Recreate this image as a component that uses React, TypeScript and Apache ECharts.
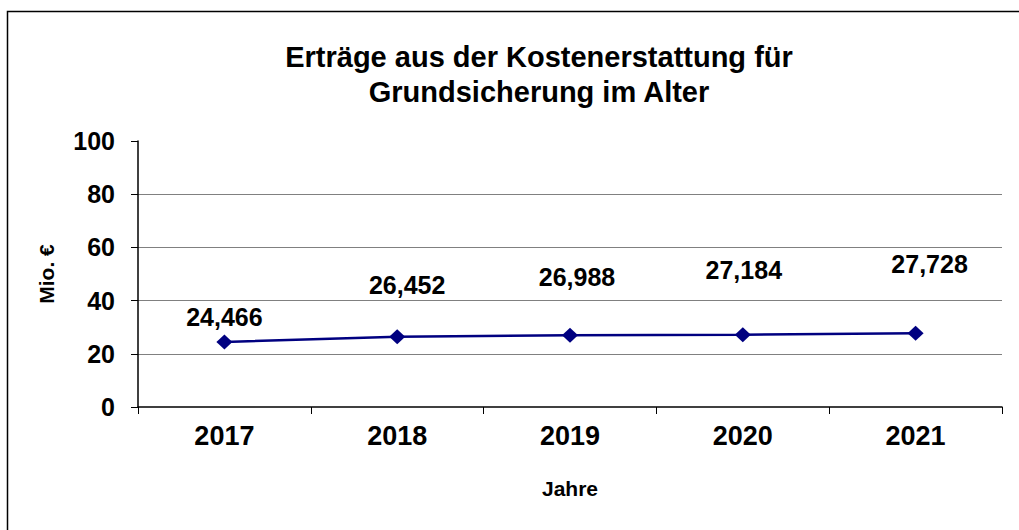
import React, { useEffect, useRef } from "react";
import * as echarts from "echarts";

const categories = ["2017", "2018", "2019", "2020", "2021"];
const values = [24.466, 26.452, 26.988, 27.184, 27.728];
const valueLabels = ["24,466", "26,452", "26,988", "27,184", "27,728"];
const yTicks = [0, 20, 40, 60, 80, 100];
const labelOffsets = [
  [0, -25],
  [10, -52],
  [7, -58],
  [1, -65],
  [14, -69],
];

const FONT = "Arial, 'Liberation Sans', sans-serif";

export default function App() {
  const ref = useRef<HTMLDivElement>(null);
  useEffect(() => {
    if (!ref.current) return;
    const chart = echarts.init(ref.current, undefined, { renderer: "svg" });
    chart.setOption({
      animation: false,
      backgroundColor: "#ffffff",
      grid: { left: 138, right: 17, top: 141, bottom: 123 },
      graphic: [
        {
          type: "rect",
          shape: { x: 7.5, y: 11.5, width: 1100, height: 600 },
          style: { fill: "none", stroke: "#000", lineWidth: 1.5 },
          z: 0,
        },
        {
          type: "text",
          x: 539,
          y: 39,
          style: {
            text: "Erträge aus der Kostenerstattung für\nGrundsicherung im Alter",
            textAlign: "center",
            textVerticalAlign: "top",
            fontFamily: FONT,
            fontWeight: "bold",
            fontSize: 29,
            lineHeight: 35,
            fill: "#000",
          },
        },
      ],
      xAxis: {
        type: "category",
        data: categories,
        boundaryGap: true,
        name: "Jahre",
        nameLocation: "middle",
        nameGap: 71,
        nameTextStyle: { fontFamily: FONT, fontWeight: "bold", fontSize: 21, color: "#000" },
        axisLine: { lineStyle: { color: "#000", width: 1.5 } },
        axisTick: { show: true, length: 7, alignWithLabel: false, lineStyle: { color: "#000" } },
        axisLabel: { margin: 15, fontFamily: FONT, fontWeight: "bold", fontSize: 27, color: "#000" },
        splitLine: { show: false },
      },
      yAxis: {
        type: "value",
        min: 0,
        max: 100,
        interval: 20,
        name: "Mio. €",
        nameLocation: "middle",
        nameGap: 81,
        nameRotate: 90,
        nameTextStyle: { fontFamily: FONT, fontWeight: "bold", fontSize: 21, color: "#000" },
        axisLine: { show: true, lineStyle: { color: "#000", width: 1.5 } },
        axisTick: { show: true, inside: false, length: 7, lineStyle: { color: "#000" } },
        axisLabel: {
          margin: 23,
          fontFamily: FONT,
          fontWeight: "bold",
          fontSize: 25,
          color: "#000",
          formatter: (v: number) => (yTicks.includes(v) ? String(v) : ""),
        },
        splitLine: {
          show: true,
          lineStyle: {
            color: ["transparent", "#808080", "#808080", "#808080", "#808080", "transparent"],
            width: 1.2,
          },
        },
      },
      series: [
        {
          type: "line",
          data: values.map((v, i) => ({
            value: v,
            label: {
              show: true,
              position: "inside",
              offset: labelOffsets[i],
              formatter: valueLabels[i],
            },
          })),
          symbol: "diamond",
          symbolSize: [16, 15],
          lineStyle: { color: "#000080", width: 2.5 },
          itemStyle: { color: "#000080" },
          label: {
            show: true,
            fontFamily: FONT,
            fontWeight: "bold",
            fontSize: 25,
            color: "#000",
          },
          z: 5,
        },
      ],
    });
    return () => chart.dispose();
  }, []);
  return (
    <div
      ref={ref}
      style={{ position: "absolute", left: 0, top: 0, width: 1019, height: 530 }}
    />
  );
}
